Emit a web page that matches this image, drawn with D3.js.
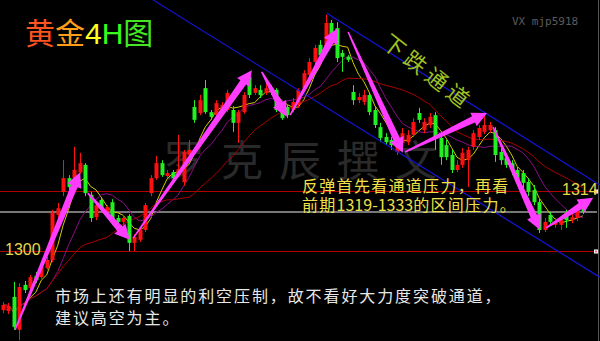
<!DOCTYPE html>
<meta charset="utf-8">
<style>
body { margin: 0; background: #000; }
svg { display: block; }
</style>
<svg width="600" height="341"></svg>
<script src="https://d3js.org/d3.v7.min.js"></script>
<script>

// 4H candles (price units)
var opens = [1286.2,1286.0,1289.3,1281.6,1292.1,1291.4,1294.2,1293.9,1296.0,1297.9,
  1308.4,1313.8,1317.0,1317.0,1318.4,1320.1,1313.1,1307.9,1311.9,1309.1,
  1311.4,1307.7,1306.8,1308.2,1301.9,1302.6,1304.9,1313.5,1317.0,1320.5,
  1317.5,1318.4,1317.7,1316.1,1322.4,1333.6,1332.2,1338.0,1332.4,1331.7,
  1332.9,1332.9,1332.9,1329.9,1332.4,1340.6,1336.9,1337.6,1336.9,1338.0,
  1337.6,1333.6,1333.6,1332.9,1334.1,1338.0,1341.1,1344.1,1348.1,1347.6,
  1353.2,1352.0,1346.2,1345.3,1337.1,1335.2,1334.8,1336.4,1332.9,1328.9,
  1326.6,1325.9,1323.1,1325.2,1325.4,1327.1,1332.2,1328.2,1329.4,1331.7,
  1326.4,1324.7,1322.4,1318.9,1320.1,1321.2,1324.3,1326.6,1327.8,1328.2,
  1328.2,1323.1,1321.7,1320.5,1318.9,1318.2,1316.1,1314.2,1311.4,1304.9,
  1308.4,1306.1,1306.1,1308.9,1307.2,1307.7,1310.0];
var closes = [1287.4,1287.2,1282.3,1291.6,1290.9,1293.9,1293.2,1296.3,1297.9,1308.9,
  1310.0,1317.0,1314.9,1318.9,1320.5,1313.5,1307.7,1310.7,1310.0,1310.3,
  1306.8,1306.8,1307.7,1301.9,1303.3,1304.9,1310.7,1317.0,1320.5,1317.7,
  1318.2,1317.0,1319.1,1323.1,1323.6,1330.6,1335.2,1332.4,1331.3,1334.5,
  1334.1,1336.9,1329.9,1332.4,1336.4,1336.4,1338.0,1336.4,1338.0,1337.1,
  1332.9,1331.0,1331.7,1334.8,1337.6,1341.5,1344.1,1347.4,1345.7,1353.2,
  1349.7,1345.0,1345.3,1344.6,1335.2,1335.9,1336.4,1332.4,1329.4,1326.4,
  1325.4,1324.7,1324.7,1327.5,1327.1,1330.1,1330.6,1330.1,1331.3,1326.6,
  1321.9,1321.9,1318.9,1320.1,1322.9,1323.6,1327.5,1328.7,1329.4,1329.4,
  1322.4,1321.2,1320.1,1318.9,1316.1,1315.9,1313.8,1311.4,1304.9,1306.8,
  1306.8,1306.8,1307.2,1307.2,1307.9,1309.6,1309.1];
var highs = [1288.1,1287.9,1292.8,1292.5,1293.0,1294.4,1295.1,1297.0,1298.6,1309.6,
  1311.2,1321.2,1317.7,1324.3,1322.9,1320.5,1313.8,1311.4,1312.6,1310.7,
  1312.1,1308.4,1308.4,1308.6,1303.9,1305.4,1311.2,1317.7,1322.2,1321.2,
  1318.9,1318.9,1327.1,1323.6,1325.9,1335.2,1336.4,1339.9,1332.9,1335.2,
  1334.8,1337.6,1333.8,1332.9,1337.1,1341.3,1338.7,1338.7,1339.4,1338.7,
  1338.0,1334.3,1334.1,1335.7,1338.0,1342.2,1345.0,1348.1,1349.2,1355.1,
  1353.9,1353.4,1346.9,1345.7,1338.7,1336.9,1337.6,1337.1,1333.6,1329.9,
  1327.5,1326.6,1325.9,1328.7,1328.2,1331.0,1333.4,1331.0,1332.2,1332.4,
  1327.1,1325.9,1323.6,1321.2,1324.0,1324.3,1328.2,1329.4,1332.4,1330.1,
  1328.9,1324.0,1322.4,1321.2,1319.6,1318.9,1317.0,1315.4,1312.4,1307.7,
  1309.1,1307.7,1308.2,1309.6,1308.9,1310.3,1310.7];
var lows = [1285.5,1285.3,1281.6,1279.2,1290.2,1290.4,1292.5,1293.5,1295.6,1297.4,
  1307.7,1312.8,1314.2,1316.6,1318.0,1312.8,1306.8,1307.2,1309.3,1308.6,
  1306.1,1306.1,1306.1,1300.0,1300.0,1302.1,1304.4,1312.8,1316.6,1317.3,
  1317.0,1316.6,1317.3,1315.2,1321.9,1329.9,1331.7,1332.0,1330.6,1331.3,
  1332.4,1332.4,1327.8,1325.2,1332.0,1335.7,1336.4,1335.7,1336.4,1336.4,
  1332.4,1330.6,1331.0,1332.4,1333.4,1337.6,1340.6,1343.6,1345.0,1346.9,
  1348.8,1344.1,1341.8,1344.1,1334.1,1334.5,1334.1,1331.7,1328.7,1325.4,
  1324.7,1323.6,1322.4,1324.5,1324.7,1326.6,1329.9,1327.5,1328.7,1323.6,
  1320.1,1321.2,1318.2,1318.4,1319.4,1314.9,1323.6,1325.9,1327.3,1327.5,
  1320.8,1320.1,1319.4,1317.7,1315.4,1314.7,1312.8,1310.7,1304.2,1304.4,
  1306.1,1305.4,1304.9,1305.4,1306.5,1307.0,1308.6];

var levels = [1314, 1300];            // red horizontal lines
var maPeriods = [5, 10, 20];
var maColors = ["#d0cc00", "#8c0c8c", "#a80000"];

// hand drawn annotations: [index1, price1, index2, price2]
var arrows = [
  [2.2, 1281.6, 14.1, 1318.4],
  [15.5, 1313.5, 23.2, 1302.6],
  [23.8, 1303.0, 45.5, 1342.2],
  [47.3, 1341.8, 51.9, 1331.3],
  [52.5, 1331.7, 61.2, 1352.0],
  [63.1, 1351.1, 73.1, 1322.9],
  [73.5, 1323.1, 88.5, 1332.2],
  [89.6, 1328.9, 98.2, 1304.9],
  [99.3, 1305.4, 107.9, 1312.4]
];
var channel = [
  [27.4, 1358.6, 109.1, 1293.9],
  [59.2, 1355.5, 109.1, 1315.4]
];

var svg = d3.select("svg");
svg.append("rect").attr("width", 600).attr("height", 341).attr("fill", "#000");

var x = d3.scaleLinear().domain([0, closes.length - 1]).range([3, 582.8]);
var y = d3.scaleLinear().domain([1300, 1314]).range([251, 191]);

var cjk = "'Noto Sans CJK SC', sans-serif";

// watermark
svg.append("text")
    .attr("x", 163).attr("y", 176)
    .attr("font-family", cjk).attr("font-size", 42)
    .attr("letter-spacing", 16)
    .attr("fill", "#2a2a2a")
    .text("罗克辰撰文");

// level lines
svg.selectAll(".level")
  .data(levels)
  .enter().append("line")
    .attr("x1", 0).attr("x2", 597)
    .attr("y1", function(d) { return Math.round(y(d)) + 0.5; })
    .attr("y2", function(d) { return Math.round(y(d)) + 0.5; })
    .attr("stroke", "#b00000").attr("stroke-width", 1);

var last = closes[closes.length - 1];
svg.append("line")
    .attr("x1", 0).attr("x2", 597)
    .attr("y1", y(last)).attr("y2", y(last))
    .attr("stroke", "#777").attr("stroke-width", 2);

svg.append("line")
    .attr("x1", 598.5).attr("x2", 598.5).attr("y1", 0).attr("y2", 341)
    .attr("stroke", "#555");

// moving averages
var line = d3.line()
    .x(function(d) { return x(d.i); })
    .y(function(d) { return y(d.v); });

maPeriods.forEach(function(p, k) {
  var pts = closes.map(function(c, i) {
    return {i: i, v: d3.mean(closes.slice(Math.max(0, i - p + 1), i + 1))};
  });
  svg.append("path")
      .attr("d", line(pts))
      .attr("fill", "none")
      .attr("stroke", maColors[k])
      .attr("stroke-width", 1);
});

// candles
var candle = svg.selectAll(".candle")
  .data(closes)
  .enter().append("g");

candle.append("line")
    .attr("x1", function(d, i) { return Math.round(x(i)) + 0.5; })
    .attr("x2", function(d, i) { return Math.round(x(i)) + 0.5; })
    .attr("y1", function(d, i) { return y(highs[i]); })
    .attr("y2", function(d, i) { return y(lows[i]); })
    .attr("stroke", function(d, i) { return d >= opens[i] ? "#ff1010" : "#22f022"; });

candle.append("rect")
    .attr("x", function(d, i) { return Math.round(x(i)) - 1.5; })
    .attr("width", 4)
    .attr("y", function(d, i) { return y(Math.max(d, opens[i])); })
    .attr("height", function(d, i) { return Math.max(1, Math.abs(y(d) - y(opens[i]))); })
    .attr("fill", function(d, i) { return d >= opens[i] ? "#ff1010" : "#22f022"; });

// channel
svg.selectAll(".channel")
  .data(channel)
  .enter().append("line")
    .attr("x1", function(d) { return x(d[0]); })
    .attr("y1", function(d) { return y(d[1]); })
    .attr("x2", function(d) { return x(d[2]); })
    .attr("y2", function(d) { return y(d[3]); })
    .attr("stroke", "#1414d8").attr("stroke-width", 1.2);

// arrows
function arrowPath(a) {
  var x1 = x(a[0]), y1 = y(a[1]), x2 = x(a[2]), y2 = y(a[3]);
  var dx = x2 - x1, dy = y2 - y1, len = Math.hypot(dx, dy);
  var ux = dx / len, uy = dy / len, nx = -uy, ny = ux;
  var hl = 15, hw = 7.5, bw = 3.5, tw = 0.8;
  var bx = x2 - ux * hl, by = y2 - uy * hl;
  var pts = [
    [x1 + nx * tw, y1 + ny * tw], [bx + nx * bw, by + ny * bw], [bx + nx * hw, by + ny * hw],
    [x2, y2],
    [bx - nx * hw, by - ny * hw], [bx - nx * bw, by - ny * bw], [x1 - nx * tw, y1 - ny * tw]
  ];
  return "M" + pts.join("L") + "Z";
}

svg.selectAll(".arrow")
  .data(arrows)
  .enter().append("path")
    .attr("d", arrowPath)
    .attr("fill", "#ff3cff");

// level markers and labels
svg.selectAll(".mark")
  .data(levels)
  .enter().append("rect")
    .attr("x", 594.5).attr("width", 3).attr("height", 3)
    .attr("y", function(d) { return Math.round(y(d)) - 1; })
    .attr("fill", "#ff6060").attr("stroke", "#fff").attr("stroke-width", 1);

svg.append("text")
    .attr("x", 5).attr("y", 255)
    .attr("font-family", "'Liberation Sans', sans-serif").attr("font-size", 16)
    .attr("fill", "#e6d84a").text("1300");
svg.append("text")
    .attr("x", 562).attr("y", 194.5)
    .attr("font-family", "'Liberation Sans', sans-serif").attr("font-size", 16)
    .attr("fill", "#e6d84a").text("1314");

// title
var title = svg.append("text")
    .attr("x", 25).attr("y", 44)
    .attr("font-family", cjk).attr("font-size", 30);
title.append("tspan").attr("fill", "#ff5420").text("黄");
title.append("tspan").attr("fill", "#ff9c18").text("金");
title.append("tspan").attr("fill", "#ffff20").attr("font-family", "'Liberation Sans', sans-serif").text("4");
title.append("tspan").attr("fill", "#36ff1a").attr("font-family", "'Liberation Sans', sans-serif").text("H");
title.append("tspan").attr("fill", "#44e622").text("图");

svg.append("text")
    .attr("x", 512).attr("y", 25)
    .attr("font-family", "'DejaVu Sans Mono', monospace").attr("font-size", 11)
    .attr("fill", "#5c5c5c").text("VX mjp5918");

// channel label
svg.append("text")
    .attr("transform", "translate(380.4,45.5) rotate(38)")
    .attr("font-family", cjk).attr("font-size", 22)
    .attr("letter-spacing", 5)
    .attr("fill", "#a0c221")
    .text("下跌通道");

// comments
var note1 = svg.append("text")
    .attr("font-family", cjk).attr("font-size", 16)
    .attr("fill", "#f0e048");
note1.append("tspan").attr("x", 302).attr("y", 191.5)
    .attr("letter-spacing", 1.3).text("反弹首先看通道压力，再看");
note1.append("tspan").attr("letter-spacing", 1.3).text("前期").attr("x", 302).attr("y", 211);
note1.append("tspan").attr("letter-spacing", 0).text("1319-1333");
note1.append("tspan").attr("letter-spacing", 1.3).text("的区间压力。");

var note2 = svg.append("text")
    .attr("font-family", cjk).attr("font-size", 16)
    .attr("letter-spacing", 1.9)
    .attr("fill", "#e8e8e8");
note2.append("tspan").attr("x", 55).attr("y", 302)
    .text("市场上还有明显的利空压制，故不看好大力度突破通道，");
note2.append("tspan").attr("x", 55).attr("y", 324)
    .text("建议高空为主。");

</script>
